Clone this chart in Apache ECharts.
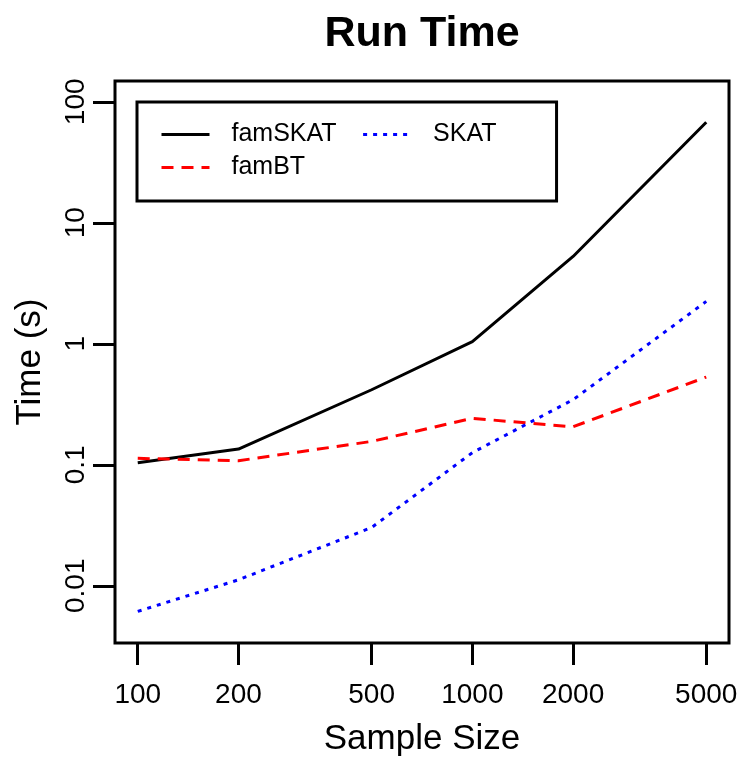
<!DOCTYPE html>
<html>
<head>
<meta charset="utf-8">
<script src="https://cdn.jsdelivr.net/npm/echarts@6/dist/echarts.min.js"></script>
<style>
  html, body { margin: 0; padding: 0; background: #fff; }
  #chart { width: 744px; height: 762px; }
</style>
</head>
<body>
<div id="chart"></div>
<script>
// values (log-log)
const sampleSizes = [100, 200, 500, 1000, 2000, 5000];
const famSKAT = [0.104, 0.135, 0.417, 1.04, 5.27, 67.7];
const famBT = [0.113, 0.108, 0.156, 0.242, 0.206, 0.531];
const SKAT = [0.00614, 0.0112, 0.0303, 0.126, 0.345, 2.24];

const xTicks = [100, 200, 500, 1000, 2000, 5000];
const yTicks = [0.01, 0.1, 1, 10, 100];
const yTickLabels = ['0.01', '0.1', '1', '10', '100'];

const font = "'Liberation Sans', Arial, Helvetica, sans-serif";
const lw = 3;

// R-style axis limits: data range padded by 4% on a log scale
const lx0 = Math.log10(100), lx1 = Math.log10(5000);
const ly0 = Math.log10(0.005), ly1 = Math.log10(100);
const padX = 0.04 * (lx1 - lx0), padY = 0.04 * (ly1 - ly0);

const toPoints = arr => arr.map((v, i) => [Math.log10(sampleSizes[i]), Math.log10(v)]);
const fmtX = v => String(Math.round(Math.pow(10, v)));
const fmtY = v => {
  const i = yTicks.findIndex(t => Math.abs(Math.log10(t) - v) < 1e-6);
  return i >= 0 ? yTickLabels[i] : '';
};

const chart = echarts.init(document.getElementById('chart'));
chart.setOption({
  animation: false,
  backgroundColor: '#fff',
  title: {
    text: 'Run Time',
    left: 422,
    top: 13,
    padding: 0,
    textAlign: 'center',
    textStyle: { fontFamily: font, fontSize: 43, fontWeight: 'bold', color: '#000' }
  },
  legend: {
    left: 137,
    top: 102,
    width: 400,
    padding: [20, 43, 21, 23],
    borderColor: '#000',
    borderWidth: lw,
    borderRadius: 0,
    backgroundColor: '#fff',
    itemWidth: 48,
    itemHeight: 2,
    itemGap: 8,
    itemStyle: { opacity: 0 },
    lineStyle: { width: lw },
    data: ['famSKAT', 'SKAT', 'famBT'],
    textStyle: { fontFamily: font, fontSize: 25, color: '#000', lineHeight: 23, padding: [0, 17, 0, 17] }
  },
  grid: {
    left: 115,
    right: 15,
    top: 81,
    bottom: 119,
    show: true,
    borderColor: '#000',
    borderWidth: lw,
    backgroundColor: 'transparent'
  },
  xAxis: {
    type: 'value',
    min: lx0 - padX,
    max: lx1 + padX,
    name: 'Sample Size',
    nameLocation: 'middle',
    nameGap: 79,
    nameTextStyle: { fontFamily: font, fontSize: 35, color: '#000' },
    splitLine: { show: false },
    axisLine: { show: false, onZero: false },
    axisTick: {
      show: true, length: 22, inside: false,
      customValues: xTicks.map(Math.log10),
      lineStyle: { color: '#000', width: lw }
    },
    axisLabel: {
      margin: 38,
      customValues: xTicks.map(Math.log10),
      formatter: fmtX,
      fontFamily: font, fontSize: 28, color: '#000'
    }
  },
  yAxis: {
    type: 'value',
    min: ly0 - padY,
    max: ly1 + padY,
    name: 'Time (s)',
    nameLocation: 'middle',
    nameGap: 67,
    nameRotate: 90,
    nameTextStyle: { fontFamily: font, fontSize: 35, color: '#000' },
    splitLine: { show: false },
    axisLine: { show: false, onZero: false },
    axisTick: {
      show: true, length: 22, inside: false,
      customValues: yTicks.map(Math.log10),
      lineStyle: { color: '#000', width: lw }
    },
    axisLabel: {
      margin: 25,
      rotate: 90,
      customValues: yTicks.map(Math.log10),
      formatter: fmtY,
      fontFamily: font, fontSize: 28, color: '#000'
    }
  },
  series: [
    {
      name: 'famSKAT',
      type: 'line',
      data: toPoints(famSKAT),
      showSymbol: false,
      symbol: 'none',
      itemStyle: { color: '#000' },
      lineStyle: { color: '#000', width: lw, type: 'solid', join: 'round' }
    },
    {
      name: 'famBT',
      type: 'line',
      data: toPoints(famBT),
      showSymbol: false,
      symbol: 'none',
      itemStyle: { color: '#ff0000' },
      lineStyle: { color: '#ff0000', width: lw, type: [12, 8], cap: 'butt', join: 'round' }
    },
    {
      name: 'SKAT',
      type: 'line',
      data: toPoints(SKAT),
      showSymbol: false,
      symbol: 'none',
      itemStyle: { color: '#0000ff' },
      lineStyle: { color: '#0000ff', width: lw, type: [4, 6], cap: 'butt', join: 'round' }
    }
  ]
});
</script>
</body>
</html>
